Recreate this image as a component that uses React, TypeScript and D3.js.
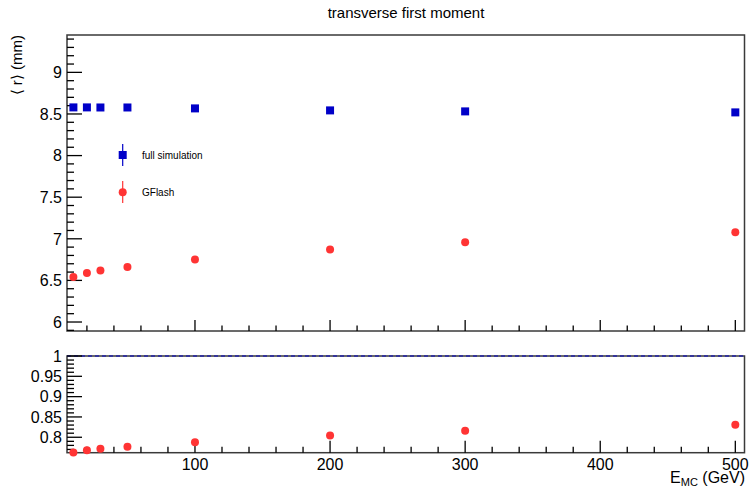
import React from "react";
import * as d3 from "d3";

// Beam energies (GeV)
const energies = [10, 20, 30, 50, 100, 200, 300, 500];
// Mean transverse radius <r> (mm)
const fullSimulation = [8.579, 8.579, 8.578, 8.578, 8.567, 8.543, 8.531, 8.519];
const gflash = [6.54, 6.588, 6.62, 6.66, 6.75, 6.87, 6.96, 7.078];

const topYLabels = [6, 6.5, 7, 7.5, 8, 8.5, 9];
const ratioYLabels = [0.8, 0.85, 0.9, 0.95, 1];
const xLabels = [100, 200, 300, 400, 500];

const seriesNames = ["full simulation", "GFlash"];
const blue = "#0000c8";
const red = "#ff3434";
const frameColor = "#3a3a3a";
const font = "'Liberation Sans', Arial, Helvetica, sans-serif";

const W = 749;
const H = 488;
const left = 67;
const right = 744.5;

export default function App() {
  const x = d3.scaleLinear().domain([5.26, 506.8]).range([left, right]);
  const yTop = d3.scaleLinear().domain([5.892, 9.449]).range([331, 35]);
  const yRatio = d3.scaleLinear().domain([0.762, 1.0]).range([452.7, 356]);

  const ratio = gflash.map((g, i) => g / fullSimulation[i]);

  const xMinor = d3.range(20, 507, 20);
  const topMinor = d3.range(59, 95).map((v) => v / 10);
  const ratioMinor = d3.range(77, 101).map((v) => v / 100);

  const isMajor = (v: number, step: number) =>
    Math.abs(v / step - Math.round(v / step)) < 1e-6;

  const markerSize = 8;

  return (
    <svg width={W} height={H} style={{ position: "absolute", left: 0, top: 0, background: "#fff" }}>
      <rect x={0} y={0} width={W} height={H} fill="#fff" />
      {/* Title */}
      <text x={406} y={18} textAnchor="middle" fontFamily={font} fontSize={15} fill="#000">
        transverse first moment
      </text>

      {/* ---------- Upper panel ---------- */}
      <rect x={left} y={35} width={right - left} height={331 - 35} fill="none" stroke={frameColor} strokeWidth={1.5} />
      {/* y ticks */}
      {topMinor.map((v) => {
        const major = isMajor(v, 0.5);
        const yy = yTop(v);
        return (
          <line key={"ty" + v} x1={left} x2={left + (major ? 15 : 7)} y1={yy} y2={yy} stroke="#000" strokeWidth={1.3} />
        );
      })}
      {topYLabels.map((v) => (
        <text key={"tyl" + v} x={62} y={yTop(v)} dy="0.36em" textAnchor="end" fontFamily={font} fontSize={16} fill="#000">
          {v}
        </text>
      ))}
      {/* x ticks */}
      {xMinor.map((v) => {
        const major = isMajor(v, 100);
        const xx = x(v);
        return (
          <line key={"tx" + v} x1={xx} x2={xx} y1={331} y2={331 - (major ? 11 : 5.5)} stroke="#000" strokeWidth={1.3} />
        );
      })}
      {/* y title */}
      <text transform="translate(22,35) rotate(-90)" textAnchor="end" fontFamily={font} fontSize={15} fill="#000">
        ⟨ r⟩ (mm)
      </text>

      {/* data: full simulation */}
      {energies.map((e, i) => (
        <rect
          key={"fs" + e}
          x={x(e) - markerSize / 2}
          y={yTop(fullSimulation[i]) - markerSize / 2}
          width={markerSize}
          height={markerSize}
          fill={blue}
        />
      ))}
      {/* data: GFlash */}
      {energies.map((e, i) => (
        <circle key={"gf" + e} cx={x(e)} cy={yTop(gflash[i])} r={4} fill={red} />
      ))}

      {/* legend */}
      <g>
        <line x1={122.7} x2={122.7} y1={144} y2={166} stroke={blue} strokeWidth={1.2} />
        <rect x={122.7 - 4} y={155 - 4} width={8} height={8} fill={blue} />
        <text x={142} y={158.5} fontFamily={font} fontSize={10} fill="#000">
          {seriesNames[0]}
        </text>
        <line x1={122.7} x2={122.7} y1={181} y2={203} stroke={red} strokeWidth={1.2} />
        <circle cx={122.7} cy={192.3} r={4} fill={red} />
        <text x={142} y={196} fontFamily={font} fontSize={10} fill="#000">
          {seriesNames[1]}
        </text>
      </g>

      {/* ---------- Ratio panel ---------- */}
      <rect x={left} y={356} width={right - left} height={452.7 - 356} fill="none" stroke={frameColor} strokeWidth={1.5} />
      <line x1={left} x2={right} y1={yRatio(1)} y2={yRatio(1)} stroke={blue} strokeWidth={1.2} strokeDasharray="4,3" />
      {ratioMinor.map((v) => {
        const major = isMajor(v, 0.05);
        const yy = yRatio(v);
        return (
          <line key={"ry" + v} x1={left} x2={left + (major ? 15 : 7)} y1={yy} y2={yy} stroke="#000" strokeWidth={1.3} />
        );
      })}
      {ratioYLabels.map((v) => (
        <text key={"ryl" + v} x={62} y={yRatio(v)} dy="0.36em" textAnchor="end" fontFamily={font} fontSize={16} fill="#000">
          {v}
        </text>
      ))}
      {xMinor.map((v) => {
        const major = isMajor(v, 100);
        const xx = x(v);
        return (
          <line key={"rx" + v} x1={xx} x2={xx} y1={452.7} y2={452.7 - (major ? 12 : 6)} stroke="#000" strokeWidth={1.3} />
        );
      })}
      {xLabels.map((v) => (
        <text key={"rxl" + v} x={x(v)} y={469.5} textAnchor="middle" fontFamily={font} fontSize={16} fill="#000">
          {v}
        </text>
      ))}
      {energies.map((e, i) => (
        <circle key={"r" + e} cx={x(e)} cy={yRatio(ratio[i])} r={4} fill={red} />
      ))}
      {/* x title */}
      <text x={745} y={483} textAnchor="end" fontFamily={font} fontSize={16} fill="#000">
        E<tspan fontSize={11} dy={2.5}>MC</tspan>
        <tspan dy={-2.5}> (GeV)</tspan>
      </text>
    </svg>
  );
}
